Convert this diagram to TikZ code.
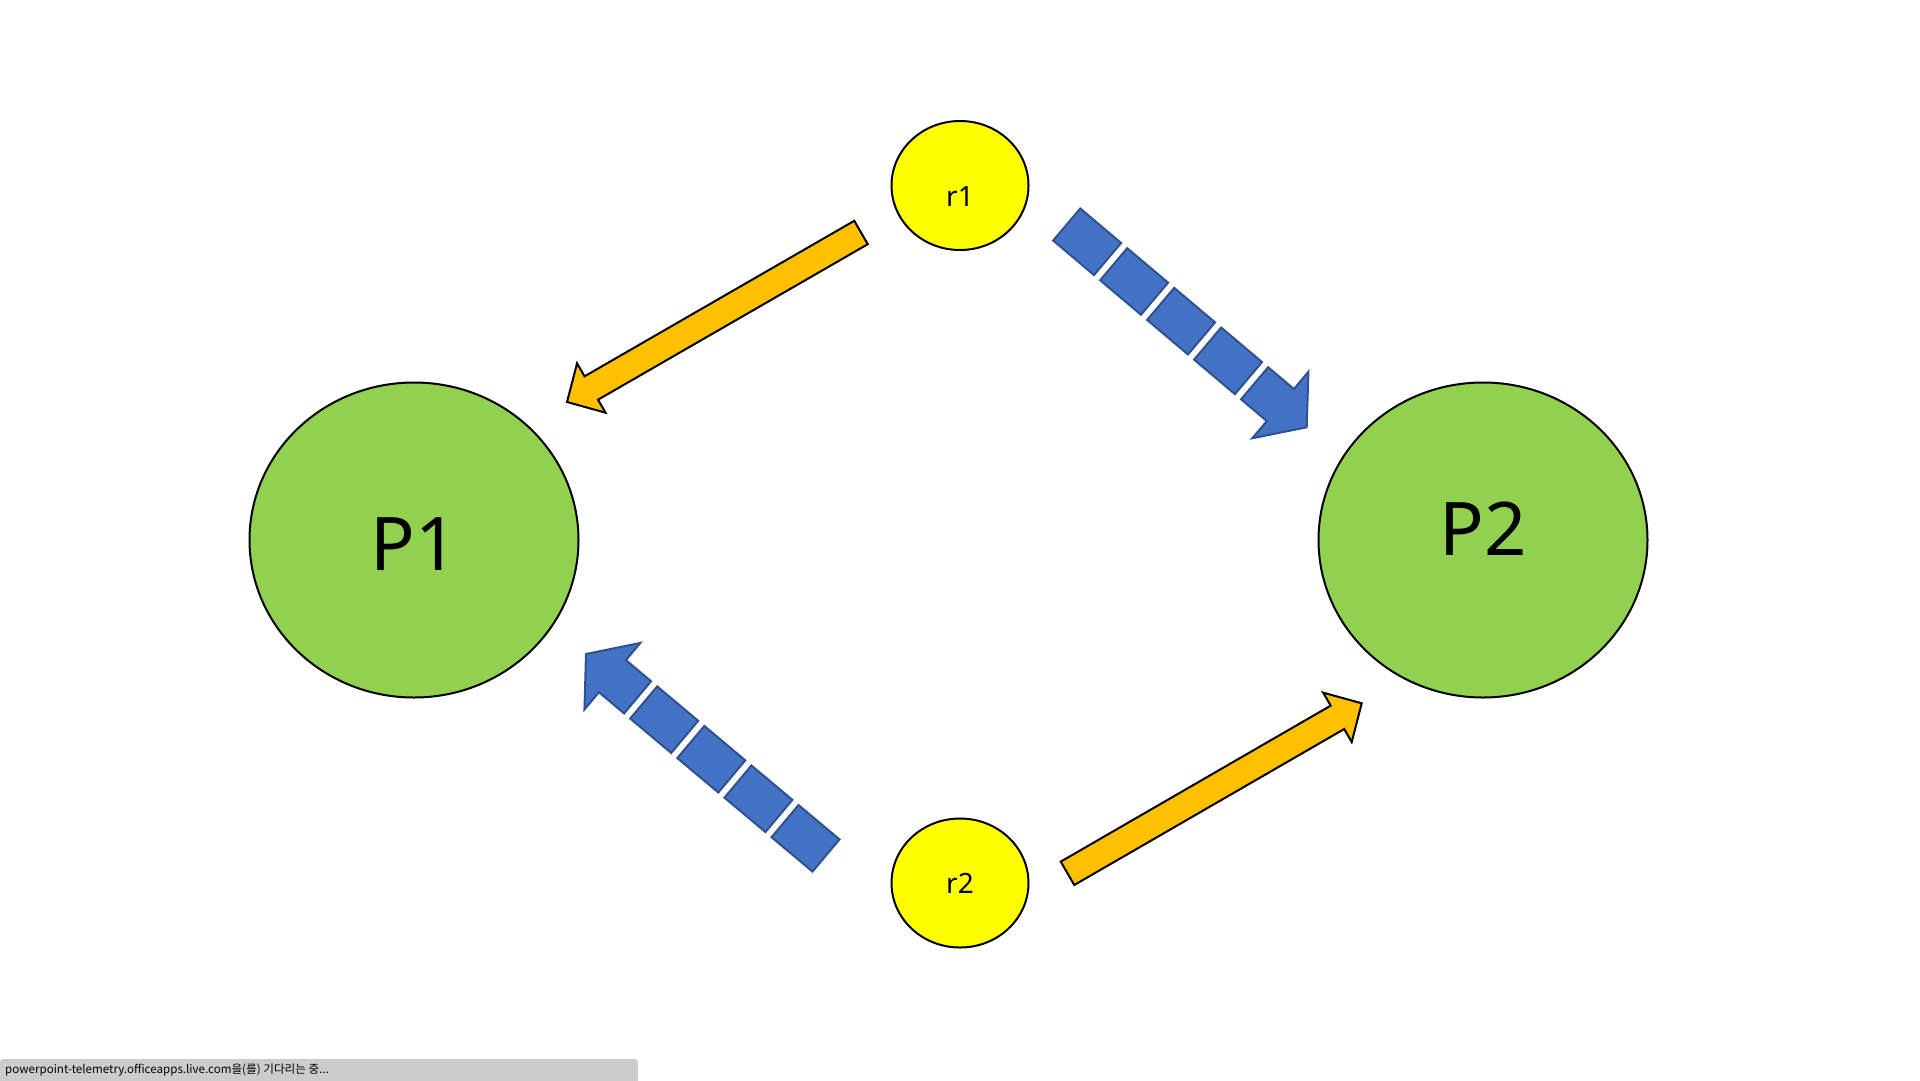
\documentclass[tikz,border=0pt]{standalone}
\usepackage{fontspec}
\setmainfont{Noto Sans}
\newfontfamily\krfont{Noto Sans CJK KR}
\usetikzlibrary{calc,shapes.geometric}

\definecolor{pgreen}{HTML}{92D050}
\definecolor{ryellow}{HTML}{FFFF00}
\definecolor{aorange}{HTML}{FFC000}
\definecolor{ablue}{HTML}{4472C4}
\definecolor{abluedark}{HTML}{2F528F}
\definecolor{bargray}{HTML}{CCCCCC}

% angle and length between two named points
\newcommand{\arrowgeom}[2]{%
  \pgfpointdiff{\pgfpointanchor{#1}{center}}{\pgfpointanchor{#2}{center}}%
  \pgfgetlastxy{\arrdx}{\arrdy}%
  \pgfmathsetmacro\arrang{atan2(\arrdy,\arrdx)}%
  \pgfmathsetmacro\arrlen{veclen(\arrdx,\arrdy)}}

% plain block arrow
\newcommand{\blockarrow}[2]{%
  \arrowgeom{#1}{#2}
  \begin{scope}[shift={(#1)},rotate=\arrang,x=1pt,y=1pt]
    \draw[orange arrow] (0,-13.5) -- (\arrlen-28,-13.5) -- (\arrlen-28,-28.5)
      -- (\arrlen,0) -- (\arrlen-28,28.5) -- (\arrlen-28,13.5) -- (0,13.5) -- cycle;
  \end{scope}}

% striped block arrow
\newcommand{\stripedarrow}[2]{%
  \arrowgeom{#1}{#2}
  \begin{scope}[shift={(#1)},rotate=\arrang,x=1pt,y=1pt]
    \foreach \s in {0,61.5,123,184.5}
      \draw[blue arrow] (\s,-21) rectangle (\s+53.5,21);
    \draw[blue arrow] (246,-21) -- (\arrlen-34.5,-21) -- (\arrlen-34.5,-43.5)
      -- (\arrlen,0) -- (\arrlen-34.5,43.5) -- (\arrlen-34.5,21) -- (246,21) -- cycle;
  \end{scope}}

\begin{document}
\begin{tikzpicture}[x=1pt,y=-1pt,
  proc node/.style={ellipse,draw,line width=2pt,fill=pgreen,minimum width=329pt,
    minimum height=315pt,inner sep=0pt,font=\fontsize{74}{80}\selectfont},
  res node/.style={ellipse,draw,line width=2pt,fill=ryellow,minimum width=137pt,
    minimum height=129pt,inner sep=0pt,font=\fontsize{28}{32}\selectfont},
  orange arrow/.style={draw=black,fill=aorange,line width=2pt,line join=miter},
  blue arrow/.style={draw=abluedark,fill=ablue,line width=2pt,line join=miter}]

  \useasboundingbox (0,0) rectangle (1920,1080);

  \node[proc node,text height=60pt,text depth=0pt] (P1) at (414,540) {P1};
  \node[proc node,text height=53pt,text depth=22pt] (P2) at (1483,540) {P2};
  \node[res node,text height=42pt,text depth=0pt] (r1) at (960,185.5) {r1};
  \node[res node] (r2) at (960,883) {r2};

  % arrow ends
  \coordinate (t1) at (861,232.5);   \coordinate (h1) at (567,402);
  \coordinate (t2) at (1066.7,224.5); \coordinate (h2) at (1306.7,427.3);
  \coordinate (t3) at (826,855.5);   \coordinate (h3) at (586,654);
  \coordinate (t4) at (1067.5,873.3); \coordinate (h4) at (1361.7,703.3);

  \blockarrow{t1}{h1}
  \stripedarrow{t2}{h2}
  \stripedarrow{t3}{h3}
  \blockarrow{t4}{h4}

  % status bar
  \fill[bargray,rounded corners=3pt] (0,1090) -- (0,1059) -- (638,1059) -- (638,1090) -- cycle;
  \node[anchor=west,inner sep=0pt,font=\krfont\fontsize{11.6}{14}\selectfont] (status)
    at (5,1070) {powerpoint-telemetry.officeapps.live.com을(를) 기다리는 중...};

\end{tikzpicture}
\end{document}
